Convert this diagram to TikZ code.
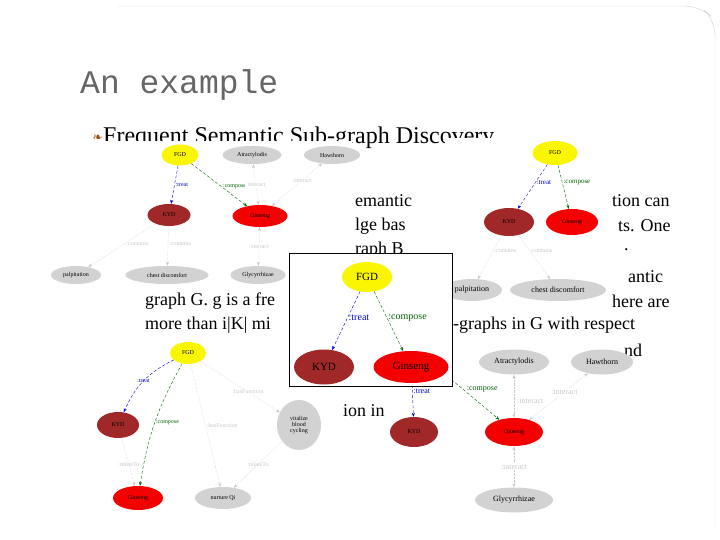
\documentclass[tikz,border=0pt]{standalone}
\usepackage{fontspec}
\setmainfont{Liberation Serif}
\newfontfamily\monof{Liberation Mono}
\newfontfamily\symf{DejaVu Sans}
\usetikzlibrary{shapes.geometric,arrows.meta}
\definecolor{kyd}{RGB}{160,40,40}
\definecolor{gs}{RGB}{245,0,0}
\definecolor{yl}{RGB}{250,245,0}
\definecolor{gn}{RGB}{210,210,210}
\definecolor{eg}{RGB}{200,200,200}
\begin{document}
\begin{tikzpicture}[x=1pt,y=-1pt,
 nd/.style={ellipse,inner sep=0pt,font=\fontsize{6}{6}\selectfont},
 big/.style={ellipse,inner sep=0pt,font=\fontsize{11}{11}\selectfont},
 yln/.style={fill=yl},kydn/.style={fill=kyd},gsn/.style={fill=gs},grn/.style={fill=gn},
 el/.style={font=\fontsize{6}{6}\selectfont,inner sep=1pt},
 elb/.style={font=\fontsize{10}{10}\selectfont,inner sep=1pt},
 ar/.style={-{Stealth[length=4pt,width=3pt]},thin},
 bl/.style={ar,blue!80!black,densely dashed},
 gr/.style={ar,green!40!black,densely dashed},
 gy/.style={ar,eg,densely dotted},
 gyb/.style={gy,{Stealth[length=4pt,width=3pt]}-{Stealth[length=4pt,width=3pt]}},
 txt/.style={font=\fontsize{18}{18}\selectfont,anchor=west,inner sep=0pt},
 cover/.style={fill=white,draw=none}]
\useasboundingbox (0,0) rectangle (720,540);
\draw[gray!40,rounded corners=15pt] (118,6) -- (700,6) -- (715,20) -- (715,528);
\node[font=\monof\fontsize{33}{33}\selectfont,text=gray!80!black,anchor=west,inner sep=0pt] (title) at (80,85) {An example};
\node[txt,font=\fontsize{24}{24}\selectfont] (bul) at (103,138) {Frequent Semantic Sub-graph Discovery};
\node[anchor=east,inner sep=0pt,text=orange!60!black,font=\symf\fontsize{12}{12}\selectfont] (bs) at (bul.west) {\symbol{"2767}};
\node[txt] (t1) at (355,201) {emantic};
\node[txt] (t2) at (612,201) {tion can};
\node[txt] (t3) at (355,226) {lge bas};
\node[txt] (t4) at (618,226) {ts. One};
\node[txt] (t5) at (355,250) {raph B};
\node[txt] (t6) at (624,250) {.};
\node[txt] (t7) at (628,277) {antic};
\node[txt] (t8) at (145,301) {graph G. g is a fre};
\node[txt] (t9) at (612,301) {here are};
\node[txt] (t10) at (145,325) {more than i|K| mi};
\node[txt] (t11) at (453,325) {-graphs in G with respect};
\node[txt] (t12) at (624,350) {nd};
\node[txt] (t13) at (343,410) {ion in l};
% top-left graph
\fill[cover] (45,141) rectangle (352,290);
\node[nd,yln,minimum width=37,minimum height=21] (a1) at (180,155) {FGD};
\node[nd,grn,minimum width=59,minimum height=18] (a2) at (252,155) {Atractylodis};
\node[nd,grn,minimum width=56,minimum height=18] (a3) at (332,155) {Hawthorn};
\node[nd,kydn,minimum width=43,minimum height=22] (a4) at (169,215) {KYD};
\node[nd,gsn,minimum width=55,minimum height=22] (a5) at (260,216) {Ginseng};
\node[nd,grn,minimum width=50,minimum height=18] (a6) at (76,275) {palpitation};
\node[nd,grn,minimum width=83,minimum height=18] (a7) at (167,275) {chest discomfort};
\node[nd,grn,minimum width=55,minimum height=18] (a8) at (258,275) {Glycyrrhizae};
\draw[bl] (a1) -- node[el,right,text=blue!80!black]{:treat} (a4);
\draw[gr] (a1) -- node[el,right,text=green!40!black,pos=.55]{:compose} (a5);
\draw[gyb] (a5) -- node[el,text=eg,fill=white]{:interact} (a2);
\draw[gyb] (a5) -- node[el,text=eg,fill=white,pos=.6]{:interact} (a3);
\draw[gy] (a4) -- node[el,text=eg,right,pos=.45]{:contains} (a6);
\draw[gy] (a4) -- node[el,text=eg,right,pos=.45]{:contains} (a7);
\draw[gyb] (a5) -- node[el,text=eg,fill=white]{:interact} (a8);
% top-right graph
\fill[cover] (445,138) rectangle (610,300);
\node[nd,yln,minimum width=45,minimum height=24] (b1) at (555,153) {FGD};
\node[nd,kydn,minimum width=50,minimum height=28] (b2) at (509,222) {KYD};
\node[nd,gsn,minimum width=52,minimum height=26] (b3) at (572,222) {Ginseng};
\node[nd,grn,minimum width=60,minimum height=22,font=\fontsize{8}{8}\selectfont] (b4) at (472,290) {palpitation};
\node[nd,grn,minimum width=96,minimum height=22,font=\fontsize{8}{8}\selectfont] (b5) at (558,290) {chest discomfort};
\draw[bl] (b1) -- node[el,right,font=\fontsize{7}{7}\selectfont,text=blue!80!black,pos=.4]{:treat} (b2);
\draw[gr] (b1) -- node[el,right,font=\fontsize{7}{7}\selectfont,text=green!40!black,pos=.4]{:compose} (b3);
\draw[gy] (b2) -- node[el,text=eg,right,pos=.35]{:contains} (b4);
\draw[gy] (b2) -- node[el,text=eg,right,pos=.35]{:contains} (b5);
% bottom-left graph
\fill[cover] (90,340) rectangle (330,512);
\node[nd,yln,minimum width=36,minimum height=22] (c1) at (188,353) {FGD};
\node[nd,kydn,minimum width=42,minimum height=26] (c2) at (118,425) {KYD};
\node[nd,gsn,minimum width=50,minimum height=24] (c3) at (138,498) {Ginseng};
\node[nd,grn,minimum width=56,minimum height=22] (c4) at (223,498) {nurture Qi};
\node[nd,grn,minimum width=44,minimum height=50,align=center] (c5) at (299,425) {vitalize\\blood\\cycling};
\draw[bl] (c1) to[bend right=20] node[el,text=blue!80!black,pos=.5]{:treat} (c2);
\draw[gr] (c1) to[bend right=10] node[el,right,text=green!40!black,pos=.5]{:compose} (c3);
\draw[gy] (c1) -- node[el,right,text=eg,pos=.5]{:hasFunction} (c4);
\draw[gy] (c1) -- node[el,text=eg,pos=.6,fill=white]{:hasFunction} (c5);
\draw[gy] (c2) -- node[el,text=eg,pos=.55]{:relateTo} (c3);
\draw[gy] (c5) -- node[el,text=eg,pos=.5]{:relateTo} (c4);
% bottom-right graph
\fill[cover] (386,357) rectangle (640,512);
\coordinate (d0) at (440,370);
\node[nd,kydn,minimum width=48,minimum height=30] (d1) at (414,432) {KYD};
\node[nd,gsn,minimum width=58,minimum height=28] (d2) at (514,432) {Ginseng};
\node[nd,grn,minimum width=70,minimum height=25,font=\fontsize{8}{8}\selectfont] (d3) at (514,362) {Atractylodis};
\node[nd,grn,minimum width=62,minimum height=25,font=\fontsize{8}{8}\selectfont] (d4) at (602,362) {Hawthorn};
\node[nd,grn,minimum width=78,minimum height=25,font=\fontsize{8}{8}\selectfont] (d5) at (514,500) {Glycyrrhizae};
\coordinate (d6) at (412,380);
\draw[bl] (d6) -- node[el,right,font=\fontsize{8}{8}\selectfont,text=blue!80!black,pos=.3]{:treat} (d1);
\draw[gr] (d0) -- node[el,above right,font=\fontsize{8}{8}\selectfont,text=green!40!black,pos=.45,inner sep=0pt]{:compose} (d2);
\draw[gyb] (d2) -- node[el,text=eg,fill=white,font=\fontsize{8}{8}\selectfont,pos=.4,right=2pt]{:interact} (d3);
\draw[gyb] (d2) -- node[el,text=eg,fill=white,font=\fontsize{8}{8}\selectfont,pos=.6]{:interact} (d4);
\draw[gyb] (d2) -- node[el,text=eg,fill=white,font=\fontsize{8}{8}\selectfont]{:interact} (d5);
% middle box
\draw[fill=white] (289,253) rectangle (452,386);
\node[big,yln,minimum width=50,minimum height=30] (m1) at (367,277) {FGD};
\node[big,kydn,minimum width=60,minimum height=35] (m2) at (324,367) {KYD};
\node[big,gsn,minimum width=75,minimum height=32] (m3) at (411,367) {Ginseng};
\draw[bl] (m1) -- node[elb,right,text=blue!80!black,pos=.45]{:treat} (m2);
\draw[gr] (m1) -- node[elb,right,text=green!40!black,pos=.45]{:compose} (m3);
\end{tikzpicture}
\end{document}
